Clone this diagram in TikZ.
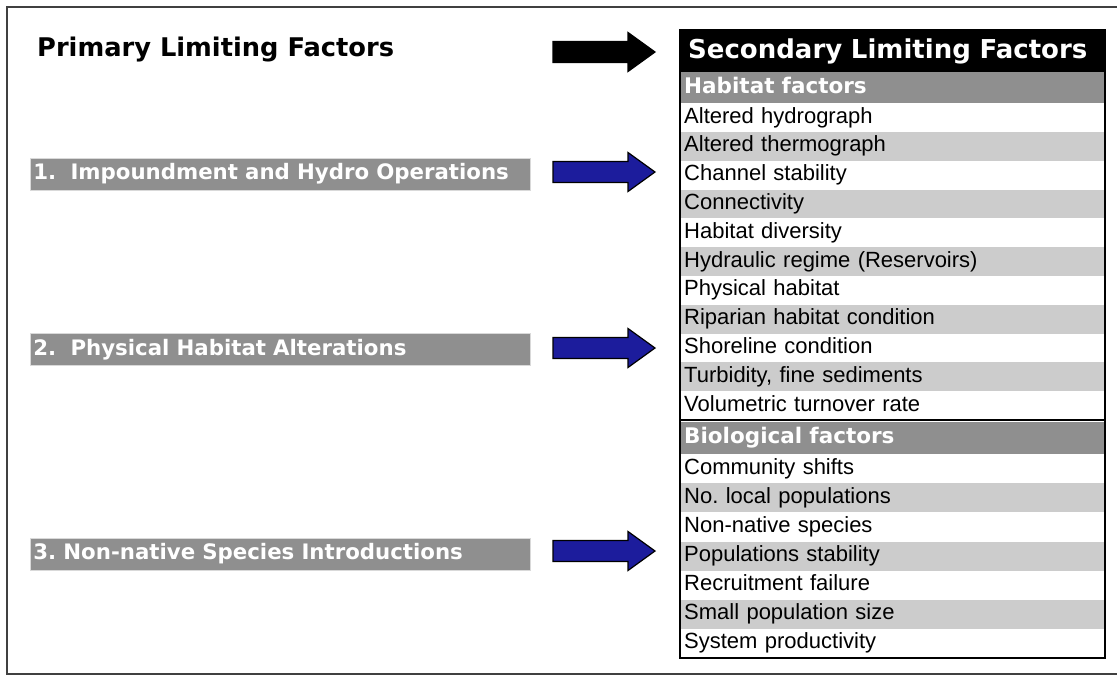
\documentclass[tikz,border=0pt]{standalone}
\usepackage{fontspec}
\setmainfont{Liberation Sans}
\newfontfamily\hdfont{DejaVu Sans}
\frenchspacing
\definecolor{framegray}{HTML}{404040}
\definecolor{labelgray}{HTML}{8F8F8F}
\definecolor{rowgray}{HTML}{CCCCCC}
\definecolor{arrowblue}{HTML}{1C1C9C}

\begin{document}
\begin{tikzpicture}[x=1pt,y=-1pt,
    factorbox/.style={anchor=west,fill=labelgray,draw=black!15,line width=0.8pt,minimum width=500pt,minimum height=32pt,
      text width=494pt,inner xsep=3pt,inner ysep=0pt,align=left,text=white,font=\hdfont\bfseries\fontsize{21.3}{24}\selectfont},
    blockarrow/.style={draw=black,line width=1.2pt,line join=miter},
    tabrow/.style={anchor=north west,minimum width=425pt,minimum height=#1,text width=417pt,inner xsep=4pt,inner ysep=0pt,
      text height=16pt,text depth=5pt,align=left,font=\fontsize{22}{24}\selectfont},
    tabhead/.style={tabrow=#1,fill=labelgray,text=white,font=\hdfont\bfseries\fontsize{21.5}{24}\selectfont}]
  \useasboundingbox (0,0) rectangle (1117,675);
  \draw[framegray,line width=2pt] (1117,7) -- (7,7) -- (7,674) -- (1117,674);

  % left column
  \node[anchor=west,inner sep=0pt,font=\hdfont\bfseries\fontsize{25.7}{30}\selectfont] (prim) at (37,50) {Primary Limiting Factors};
  \node[factorbox] (pf1) at (30,174) {1.\ \ Impoundment and Hydro Operations};
  \node[factorbox] (pf2) at (30,349.5) {2.\ \ Physical Habitat Alterations};
  \node[factorbox] (pf3) at (30,554) {3. Non-native Species Introductions};

  % arrows
  \foreach \ay/\col in {52/black,172/arrowblue,348/arrowblue,551/arrowblue}
    \draw[blockarrow,fill=\col] (553,{\ay-10.5}) -- (628,{\ay-10.5}) -- (628,{\ay-19.5}) -- (655,\ay)
      -- (628,{\ay+19.5}) -- (628,{\ay+10.5}) -- (553,{\ay+10.5}) -- cycle;

  % secondary table
  \node[tabrow=42pt,fill=black,text=white,inner xsep=8pt,text width=409pt,text height=19pt,text depth=5pt,
    font=\hdfont\bfseries\fontsize{26}{30}\selectfont] (sec) at (680,30) {Secondary Limiting Factors};
  \node[tabhead=31pt] (habh) at (680,72) {Habitat factors};
  \foreach \txt [count=\i] in {Altered hydrograph,Altered thermograph,Channel stability,Connectivity,Habitat diversity,
      Hydraulic regime (Reservoirs),Physical habitat,Riparian habitat condition,Shoreline condition,{Turbidity, fine sediments},
      Volumetric turnover rate}{
    \ifodd\i\def\rowfill{white}\else\def\rowfill{rowgray}\fi
    \node[tabrow=28.8pt,fill=\rowfill] (hab\i) at (680,{103+(\i-1)*28.8}) {\txt};
  }
  \node[tabhead=32.5pt] (bioh) at (680,421.5) {Biological factors};
  \foreach \txt [count=\i] in {Community shifts,No. local populations,Non-native species,Populations stability,
      Recruitment failure,Small population size,System productivity}{
    \ifodd\i\def\rowfill{white}\else\def\rowfill{rowgray}\fi
    \node[tabrow=29.1pt,fill=\rowfill] (bio\i) at (680,{454+(\i-1)*29.1}) {\txt};
  }
  \draw[line width=2.5pt] (hab11.south west) -- (hab11.south east);
  \draw[line width=2pt] (sec.north west) rectangle (bio7.south east);
\end{tikzpicture}
\end{document}
